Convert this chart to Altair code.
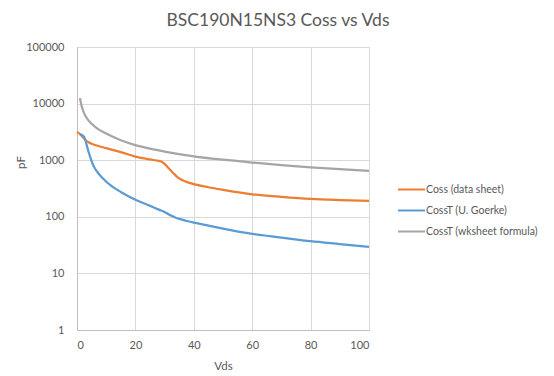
import altair as alt
import pandas as pd

series_names = ["Coss (data sheet)", "CossT (U. Goerke)", "CossT (wksheet formula)"]
colors = ["#ED7D31", "#5B9BD5", "#A5A5A5"]

coss_vds = [0, 1, 2, 3, 4, 5, 7, 10, 15, 20, 25, 28, 29, 30, 31, 32, 33, 34, 35, 36, 38, 40, 45, 50, 60, 70, 80, 90, 100]
coss_pf = [3150, 2900, 2550, 2250, 2080, 1950, 1800, 1630, 1390, 1160, 1030, 970, 940, 860, 760, 670, 590, 525, 478, 445, 405, 377, 333, 300, 250, 225, 207, 198, 192]

goerke_vds = [1, 2, 2.5, 3, 3.5, 4, 4.7, 5.8, 7.5, 9, 10.4, 12, 15, 20, 25, 28, 30, 32, 34, 36, 38, 40, 45, 50, 60, 70, 80, 90, 100]
goerke_pf = [2850, 2720, 2550, 2150, 1700, 1380, 1070, 770, 570, 470, 400, 345, 275, 200, 157, 134, 122, 106, 95, 89, 83.5, 79, 70, 62, 50, 43, 37, 33, 29.5]

wk_vds = [1, 1.5, 2, 3, 4, 5, 7, 10, 15, 20, 25, 30, 40, 50, 60, 70, 80, 90, 100]
wk_pf = [12500, 9500, 7700, 5900, 5000, 4400, 3600, 2950, 2250, 1850, 1600, 1420, 1170, 1020, 910, 820, 750, 695, 650]

x_ticks = [0, 20, 40, 60, 80, 100]
y_ticks = [1, 10, 100, 1000, 10000, 100000]

rows = []
for name, xs, ys in [(series_names[0], coss_vds, coss_pf),
                     (series_names[1], goerke_vds, goerke_pf),
                     (series_names[2], wk_vds, wk_pf)]:
    for i, (xv, yv) in enumerate(zip(xs, ys)):
        rows.append({"series": name, "Vds": xv, "pF": yv, "order": i})
df = pd.DataFrame(rows)

FONT = "Lato"
TXT = "#595959"

chart = alt.Chart(df).mark_line(strokeWidth=2.25, interpolate="monotone").encode(
    x=alt.X("Vds:Q",
            scale=alt.Scale(domain=[0, 100], nice=False),
            axis=alt.Axis(values=x_ticks, title="Vds", tickSize=0, labelPadding=9,
                          titleY=36, titleBaseline="middle", titlePadding=0)),
    y=alt.Y("pF:Q",
            scale=alt.Scale(type="log", domain=[1, 100000], nice=False),
            axis=alt.Axis(values=y_ticks, format="d", title="pF", tickSize=0, labelPadding=13,
                          titleX=-56, titleY=115, titleAngle=270, titleAlign="center",
                          titleBaseline="middle")),
    color=alt.Color("series:N",
                    scale=alt.Scale(domain=series_names, range=colors),
                    legend=alt.Legend(title=None, orient="none", legendX=320, legendY=128,
                                      symbolType="stroke", symbolSize=729, symbolStrokeWidth=2,
                                      labelOffset=0, rowPadding=1, padding=0)),
    order="order:Q",
).properties(
    width=292,
    height=283,
    title=alt.TitleParams("BSC190N15NS3 Coss vs Vds", fontSize=17.5, font=FONT, color=TXT,
                          fontWeight="normal", anchor="middle", frame="group", dx=55,
                          offset=12),
    autosize=alt.AutoSizeParams(type="none"),
    padding={"left": 69, "top": 39, "right": 177, "bottom": 46},
).configure_view(
    stroke=None
).configure_axis(
    labelFont=FONT, labelFontSize=11, labelColor=TXT,
    titleFont=FONT, titleFontSize=11.5, titleColor=TXT, titleFontWeight="normal",
    gridColor="#D9D9D9", gridWidth=1, domainColor="#BFBFBF", domainWidth=1,
).configure_axisX(
    grid=True
).configure_axisY(
    grid=True
).configure_legend(
    labelFont=FONT, labelFontSize=10.5, labelColor=TXT
)

chart.save("out.html", embed_options={"renderer": "svg", "actions": False})
